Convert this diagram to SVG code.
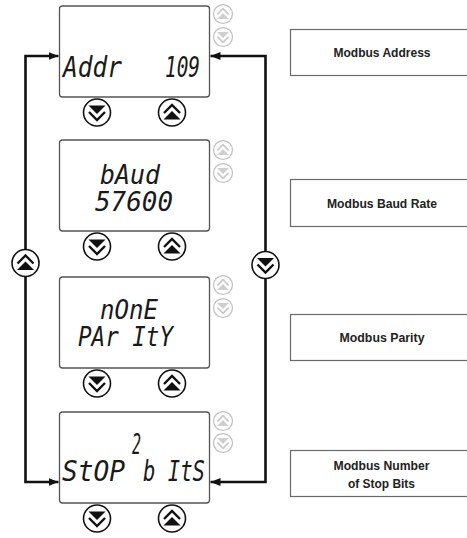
<svg xmlns="http://www.w3.org/2000/svg" width="467" height="538" viewBox="0 0 467 538">
<style>
.lcd{fill:#fff;stroke:#555;stroke-width:1.3}
.seg{font-family:"DejaVu Sans Mono","Liberation Mono",monospace;font-size:28px;font-style:oblique;fill:#1a1a1a}
.seg2{font-size:26px}
.lbl{fill:#fff;stroke:#6a6a6a;stroke-width:1.2}
.lt{font-family:"Liberation Sans","Arial",sans-serif;font-weight:bold;font-size:12.5px;fill:#222;text-anchor:middle}
.wire{fill:none;stroke:#111;stroke-width:2.6}
</style>
<defs>
<marker id="ah" markerUnits="userSpaceOnUse" markerWidth="11" markerHeight="9" refX="10" refY="4.5" orient="auto-start-reverse" viewBox="0 0 11 9">
<path d="M0,0.5 L10,4.5 L0,8.5 Z" fill="#111"/>
</marker>
<g id="bDown">
<circle r="13.5" fill="#fff" stroke="#111" stroke-width="1.6"/>
<path d="M-8.5,-7 L8.5,-7 L0,1.5 Z" fill="#111"/>
<path d="M-8,-0.5 L0,7.5 L8,-0.5" fill="none" stroke="#111" stroke-width="2.4"/>
</g>
<g id="bUp">
<circle r="13.5" fill="#fff" stroke="#111" stroke-width="1.6"/>
<path d="M-8.5,7 L8.5,7 L0,-1.5 Z" fill="#111"/>
<path d="M-8,0.5 L0,-7.5 L8,0.5" fill="none" stroke="#111" stroke-width="2.4"/>
</g>
<g id="gUp" transform="scale(0.7)">
<circle r="13.5" fill="#fff" stroke="#c2c2c2" stroke-width="1.8"/>
<path d="M-8.5,7 L8.5,7 L0,-1.5 Z" fill="#cfcfcf"/>
<path d="M-8,0.5 L0,-7.5 L8,0.5" fill="none" stroke="#c8c8c8" stroke-width="2.4"/>
</g>
<g id="gDown" transform="scale(0.7)">
<circle r="13.5" fill="#fff" stroke="#c2c2c2" stroke-width="1.8"/>
<path d="M-8.5,-7 L8.5,-7 L0,1.5 Z" fill="#cfcfcf"/>
<path d="M-8,-0.5 L0,7.5 L8,-0.5" fill="none" stroke="#c8c8c8" stroke-width="2.4"/>
</g>
</defs>
<rect width="467" height="538" fill="#fff"/>

<g id="connectors">
<path class="wire" d="M58.5,56 H25.5 V482 H58.5" marker-start="url(#ah)" marker-end="url(#ah)"/>
<path class="wire" d="M210.5,56 H265.5 V482 H210.5" marker-start="url(#ah)" marker-end="url(#ah)"/>
<use href="#bUp" x="25.5" y="263"/>
<use href="#bDown" x="265.5" y="265"/>
</g>

<g id="screen-addr">
<rect class="lcd" x="59.5" y="6" width="150" height="91" rx="3"/>
<text class="seg" x="63" y="77" textLength="59" lengthAdjust="spacingAndGlyphs">Addr</text>
<text class="seg" x="165" y="77" textLength="35" lengthAdjust="spacingAndGlyphs">109</text>
<use href="#gUp" x="223" y="14"/>
<use href="#gDown" x="223" y="37"/>
<use href="#bDown" x="97" y="112.5"/>
<use href="#bUp" x="172" y="112.5"/>
</g>

<g id="screen-baud">
<rect class="lcd" x="59.5" y="140" width="150" height="91" rx="3"/>
<text class="seg seg2" x="100" y="184" textLength="60" lengthAdjust="spacingAndGlyphs">bAud</text>
<text class="seg seg2" x="95" y="211" textLength="78" lengthAdjust="spacingAndGlyphs">57600</text>
<use href="#gUp" x="223" y="150"/>
<use href="#gDown" x="223" y="173"/>
<use href="#bDown" x="97" y="246.5"/>
<use href="#bUp" x="172" y="246.5"/>
</g>

<g id="screen-parity">
<rect class="lcd" x="59.5" y="277" width="150" height="91" rx="3"/>
<text class="seg seg2" x="100" y="319" textLength="58" lengthAdjust="spacingAndGlyphs">nOnE</text>
<text class="seg seg2" x="78" y="346" textLength="95" lengthAdjust="spacingAndGlyphs">PAr ItY</text>
<use href="#gUp" x="223" y="285"/>
<use href="#gDown" x="223" y="308"/>
<use href="#bDown" x="97" y="383.5"/>
<use href="#bUp" x="172" y="383.5"/>
</g>

<g id="screen-stop">
<rect class="lcd" x="59.5" y="412" width="150" height="91" rx="3"/>
<text class="seg" x="132" y="454" textLength="9" lengthAdjust="spacingAndGlyphs">2</text>
<text class="seg" x="62" y="481" textLength="63" lengthAdjust="spacingAndGlyphs">StOP</text>
<text class="seg" x="143" y="481" textLength="62" lengthAdjust="spacingAndGlyphs">b ItS</text>
<use href="#gUp" x="223" y="421"/>
<use href="#gDown" x="223" y="443"/>
<use href="#bDown" x="97" y="518.5"/>
<use href="#bUp" x="172" y="518.5"/>
</g>

<g id="label-addr">
<rect class="lbl" x="290.5" y="29.5" width="190" height="46"/>
<text class="lt" x="382" y="57" textLength="97" lengthAdjust="spacingAndGlyphs">Modbus Address</text>
</g>
<g id="label-baud">
<rect class="lbl" x="290.5" y="179.5" width="190" height="47"/>
<text class="lt" x="382" y="207.5" textLength="110" lengthAdjust="spacingAndGlyphs">Modbus Baud Rate</text>
</g>
<g id="label-parity">
<rect class="lbl" x="290.5" y="314.5" width="190" height="46"/>
<text class="lt" x="382" y="342" textLength="85" lengthAdjust="spacingAndGlyphs">Modbus Parity</text>
</g>
<g id="label-stop">
<rect class="lbl" x="290.5" y="450.5" width="190" height="46"/>
<text class="lt" x="381.5" y="469.5" textLength="96" lengthAdjust="spacingAndGlyphs">Modbus Number</text>
<text class="lt" x="381.5" y="487.5" textLength="67" lengthAdjust="spacingAndGlyphs">of Stop Bits</text>
</g>
</svg>
